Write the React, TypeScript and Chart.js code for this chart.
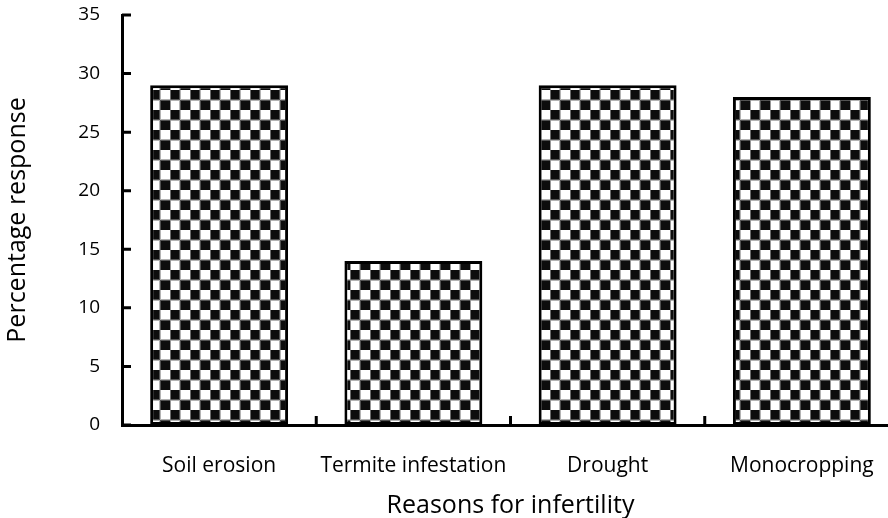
import React, { useEffect, useRef } from "react";
import { Chart, registerables } from "chart.js";

Chart.register(...registerables);

const categories = ["Soil erosion", "Termite infestation", "Drought", "Monocropping"];
const responses = [29, 14, 29, 28];
const yTicks = [0, 5, 10, 15, 20, 25, 30, 35];

function makePattern(ctx: CanvasRenderingContext2D, size: number) {
  const c = document.createElement("canvas");
  c.width = size * 2;
  c.height = size * 2;
  const p = c.getContext("2d")!;
  p.fillStyle = "#ffffff";
  p.fillRect(0, 0, size * 2, size * 2);
  p.fillStyle = "#0d0d0d";
  p.fillRect(0, 0, size, size);
  p.fillRect(size, size, size, size);
  p.strokeStyle = "rgba(128,128,128,0.6)";
  p.lineWidth = 1;
  p.strokeRect(0.5, 0.5, size * 2 - 1, size * 2 - 1);
  p.strokeRect(size + 0.5, 0.5, 0, size * 2);
  return ctx.createPattern(c, "repeat")!;
}

const tickPlugin = {
  id: "innerTicks",
  afterDraw(chart: any) {
    const ctx = chart.ctx;
    const y = chart.scales.y;
    const x = chart.scales.x;
    ctx.save();
    ctx.strokeStyle = "#000";
    ctx.lineWidth = 3;
    ctx.beginPath();
    yTicks.forEach((v) => {
      const py = y.getPixelForValue(v);
      ctx.moveTo(x.left, py);
      ctx.lineTo(x.left + 9, py);
    });
    for (let i = 0; i < categories.length - 1; i++) {
      const px = (x.getPixelForValue(i) + x.getPixelForValue(i + 1)) / 2;
      ctx.moveTo(px, y.bottom);
      ctx.lineTo(px, y.bottom - 9);
    }
    ctx.stroke();
    ctx.restore();
  },
};

export default function App() {
  const ref = useRef<HTMLCanvasElement>(null);
  useEffect(() => {
    document.body.style.margin = "0";
    const canvas = ref.current!;
    const ctx = canvas.getContext("2d")!;
    const pattern = makePattern(ctx, 10);
    const chart = new Chart(canvas, {
      type: "bar",
      data: {
        labels: categories,
        datasets: [
          {
            data: responses,
            backgroundColor: pattern,
            borderColor: "#000",
            borderWidth: 3,
            borderSkipped: false,
            barPercentage: 1,
            categoryPercentage: 0.71,
          },
        ],
      },
      plugins: [tickPlugin],
      options: {
        animation: false,
        responsive: false,
        devicePixelRatio: 1,
        layout: { padding: { top: 15, left: 0, right: 0, bottom: 0 } },
        plugins: { legend: { display: false }, tooltip: { enabled: false } },
        scales: {
          x: {
            grid: { display: false, drawTicks: false },
            border: { display: true, color: "#000", width: 3 },
            ticks: {
              color: "#000",
              padding: 28,
              font: { family: "'Open Sans'", size: 21 },
              maxRotation: 0,
              autoSkip: false,
            },
            title: {
              display: true,
              text: "Reasons for infertility",
              color: "#000",
              font: { family: "'Open Sans'", size: 25, lineHeight: 1 },
              padding: { top: 0, bottom: 0 },
            },
            afterFit: (s: any) => {
              s.height = 93;
              s.paddingLeft = 0;
              s.paddingRight = 0;
            },
          },
          y: {
            min: 0,
            max: 35,
            grid: { display: false, drawTicks: false },
            border: { display: true, color: "#000", width: 3 },
            ticks: {
              stepSize: 5,
              color: "#000",
              padding: 22,
              font: { family: "'Open Sans'", size: 19 },
            },
            title: {
              display: true,
              text: "Percentage response",
              color: "#000",
              font: { family: "'Open Sans'", size: 25, lineHeight: 1 },
              padding: { top: 5, bottom: 0 },
            },
            afterFit: (s: any) => {
              s.width = 122;
              s.paddingTop = 0;
              s.paddingBottom = 0;
            },
          },
        },
      },
    });
    return () => chart.destroy();
  }, []);
  return (
    <div style={{ width: 888, height: 518, overflow: "hidden" }}>
      <canvas ref={ref} width={899} height={518} style={{ display: "block" }} />
    </div>
  );
}
